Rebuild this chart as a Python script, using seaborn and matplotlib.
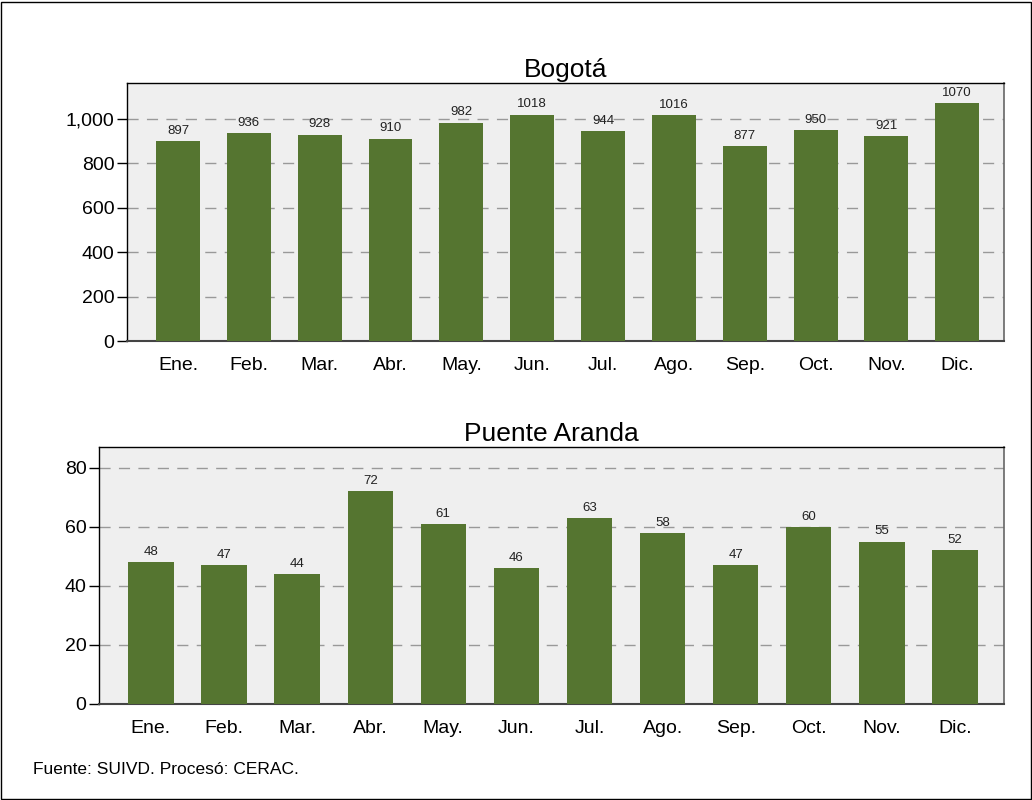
import numpy as np
import pandas as pd
import matplotlib.pyplot as plt
import seaborn as sns
from matplotlib.patches import Rectangle
from matplotlib.ticker import FuncFormatter

sns.set_style("white")
plt.rcParams["font.family"] = ["Liberation Sans", "DejaVu Sans"]
plt.rcParams["text.color"] = "black"
plt.rcParams["xtick.color"] = "black"
plt.rcParams["ytick.color"] = "black"
plt.rcParams["axes.labelcolor"] = "black"

#%% DATA
months = ['Ene.', 'Feb.', 'Mar.', 'Abr.', 'May.', 'Jun.', 'Jul.', 'Ago.', 'Sep.', 'Oct.', 'Nov.', 'Dic.']
bogota = [897, 936, 928, 910, 982, 1018, 944, 1016, 877, 950, 921, 1070]
puente_aranda = [48, 47, 44, 72, 61, 46, 63, 58, 47, 60, 55, 52]

bar_color = '#557530'
bg_color = '#efefef'

W, H = 1032, 800
fig = plt.figure(figsize=(W / 100, H / 100), dpi=100)
fig.patches.append(Rectangle((0.001, 0.001), 0.998, 0.997, transform=fig.transFigure,
                             fill=False, edgecolor='black', linewidth=1))


def draw(ax, values, title, ylim, yticks, xlim, fmt):
    df = pd.DataFrame({'mes': months, 'valor': values})
    ax.set_facecolor(bg_color)
    sns.barplot(data=df, x='mes', y='valor', color=bar_color, width=0.62,
                saturation=1, edgecolor='none', linewidth=0, ax=ax, zorder=3)
    ax.set_ylim(*ylim)
    ax.set_xlim(*xlim)
    ax.set_yticks(yticks)
    ax.yaxis.set_major_formatter(FuncFormatter(fmt))
    ax.grid(axis='y', color='#999999', linestyle=(0, (8, 6)), linewidth=1, zorder=1)
    ax.set_axisbelow(True)
    for c in ax.containers:
        ax.bar_label(c, fmt='%d', fontsize=9.5, padding=3, color='#222222')
    ax.set_xlabel('')
    ax.set_ylabel('')
    ax.set_title(title, fontsize=19, pad=4, color='black')
    ax.tick_params(axis='y', which='both', left=True, length=7, width=1,
                   direction='out', labelsize=14, pad=2, color='black')
    ax.tick_params(axis='x', bottom=False, labelsize=14, pad=8)
    for s in ['left', 'top']:
        ax.spines[s].set_color('black')
        ax.spines[s].set_linewidth(1)
    ax.spines['right'].set_color('#666666')
    ax.spines['right'].set_linewidth(1.2)
    ax.spines['bottom'].set_color('#444444')
    ax.spines['bottom'].set_linewidth(1.5)


#%% TOP CHART
ax1 = fig.add_axes([127 / W, (H - 341) / H, (1004 - 127) / W, (341 - 83) / H])
draw(ax1, bogota, 'Bogotá', (0, 1160), [0, 200, 400, 600, 800, 1000], (-0.72, 11.66),
     lambda v, p: f'{int(v):,}')

#%% BOTTOM CHART
ax2 = fig.add_axes([99 / W, (H - 704) / H, (1004 - 99) / W, (704 - 447) / H])
draw(ax2, puente_aranda, 'Puente Aranda', (0, 87), [0, 20, 40, 60, 80], (-0.71, 11.67),
     lambda v, p: f'{int(v)}')

fig.text(33 / W, (H - 770) / H, 'Fuente: SUIVD. Procesó: CERAC.', fontsize=12.5, va='center')

plt.savefig('out.png', dpi=100)
plt.close()
